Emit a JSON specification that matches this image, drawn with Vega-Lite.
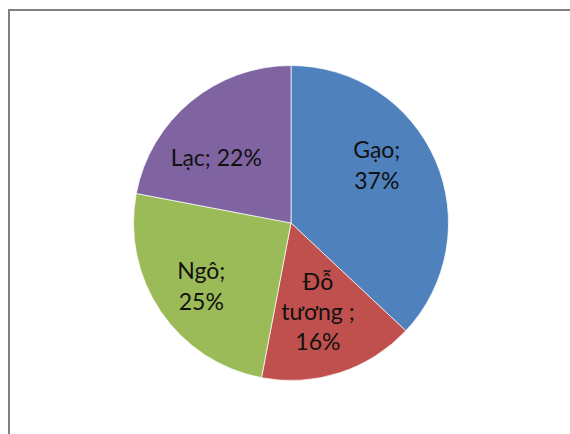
{
  "$schema": "https://vega.github.io/schema/vega-lite/v6.json",
  "width": 564,
  "height": 426,
  "autosize": {"type": "none"},
  "padding": {"left": 9, "top": 10, "right": 0, "bottom": 0},
  "background": "white",
  "view": {"stroke": "#808080", "strokeWidth": 2, "fill": "white"},
  "config": {"view": {"stroke": "#808080", "strokeWidth": 2}},
  "data": {
    "values": [
      {"rank": 1, "name": "Gạo", "value": 37, "label": "Gạo;\n37%"},
      {"rank": 2, "name": "Đỗ tương", "value": 16, "label": "Đỗ\ntương ;\n16%"},
      {"rank": 3, "name": "Ngô", "value": 25, "label": "Ngô;\n25%"},
      {"rank": 4, "name": "Lạc", "value": 22, "label": "Lạc; 22%"}
    ]
  },
  "encoding": {
    "theta": {"field": "value", "type": "quantitative", "stack": true},
    "order": {"field": "rank", "type": "quantitative"},
    "detail": {"field": "name", "type": "nominal"},
    "color": {
      "field": "name",
      "type": "nominal",
      "scale": {
        "domain": ["Gạo", "Đỗ tương", "Ngô", "Lạc"],
        "range": ["#4F81BD", "#C0504D", "#9BBB59", "#8064A2"]
      },
      "legend": null
    }
  },
  "layer": [
    {"mark": {"type": "arc", "outerRadius": 157.5, "stroke": "#ffffff", "strokeWidth": 0.7}},
    {
      "mark": {"type": "text", "radius": 100, "fontSize": 23, "font": "Lato", "lineBreak": "\n", "lineHeight": 31, "dx": -6, "dy": -32, "align": "center", "baseline": "middle"},
      "encoding": {
        "color": {"value": "#111111"},
        "text": {"condition": {"test": "datum.name == 'Gạo'", "field": "label"}, "value": ""}
      }
    },
    {
      "mark": {"type": "text", "radius": 100, "fontSize": 23, "font": "Lato", "lineBreak": "\n", "lineHeight": 30, "dx": -4, "dy": -35, "align": "center", "baseline": "middle"},
      "encoding": {
        "color": {"value": "#111111"},
        "text": {"condition": {"test": "datum.name == 'Đỗ tương'", "field": "label"}, "value": ""}
      }
    },
    {
      "mark": {"type": "text", "radius": 100, "fontSize": 23, "font": "Lato", "lineBreak": "\n", "lineHeight": 31, "dx": -7, "dy": -7, "align": "center", "baseline": "middle"},
      "encoding": {
        "color": {"value": "#111111"},
        "text": {"condition": {"test": "datum.name == 'Ngô'", "field": "label"}, "value": ""}
      }
    },
    {
      "mark": {"type": "text", "radius": 100, "fontSize": 23, "font": "Lato", "lineBreak": "\n", "lineHeight": 31, "dx": -11, "dy": 13, "align": "center", "baseline": "middle"},
      "encoding": {
        "color": {"value": "#111111"},
        "text": {"condition": {"test": "datum.name == 'Lạc'", "field": "label"}, "value": ""}
      }
    }
  ]
}
